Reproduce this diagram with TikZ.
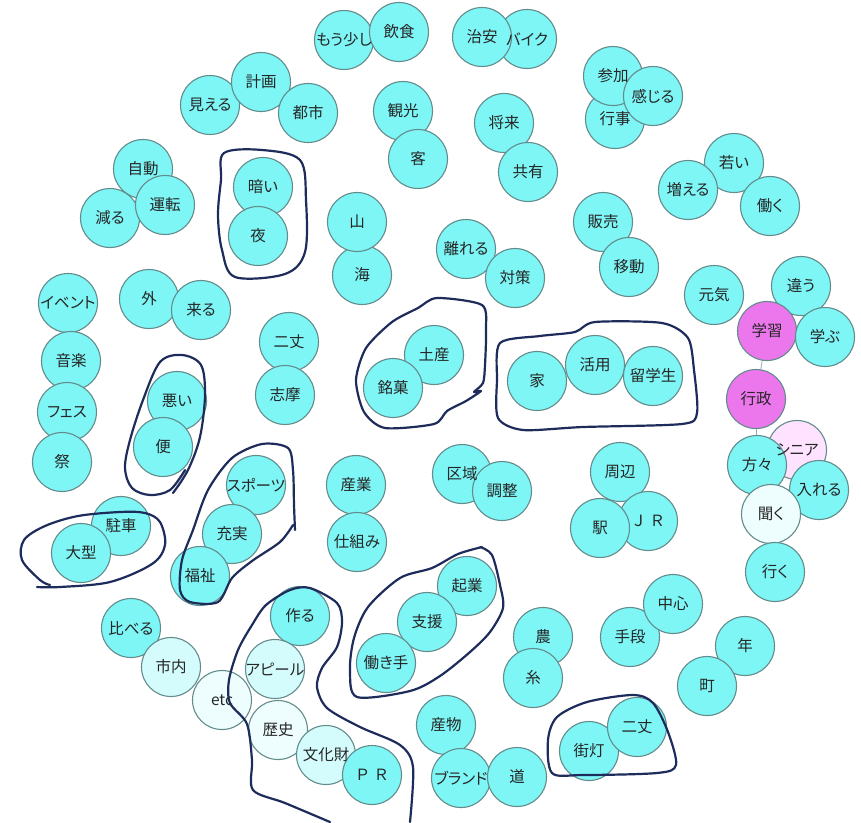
\documentclass[tikz,border=0pt]{standalone}
\usepackage{fontspec}
\setmainfont{Noto Sans CJK JP}[RawFeature=+palt]
\newfontfamily\fwfont{Noto Sans CJK JP}
\definecolor{cy}{RGB}{126,246,246}
\definecolor{lc}{RGB}{212,252,252}
\definecolor{vl}{RGB}{238,254,254}
\definecolor{mg}{RGB}{236,118,236}
\definecolor{pk}{RGB}{255,226,255}
\definecolor{rim}{RGB}{100,140,140}
\definecolor{ink}{RGB}{30,44,92}
\tikzset{
  bub/.style={circle, draw=rim, line width=1.1pt, minimum size=59pt, inner sep=0pt},
  txt/.style={font=\fontsize{15.5}{16}\selectfont, text=black!85, inner sep=0pt},
  edge/.style={draw=rim!70, line width=0.8pt},
  hand/.style={draw=ink, line width=2.2pt, line cap=round, line join=round}
}
\begin{document}
\begin{tikzpicture}[x=1pt,y=-1pt]
\fill[white] (0,0) rectangle (861,822);
\useasboundingbox (0,0) rectangle (861,822);
\def\bubs{344/40/moosukoshi/もう少し/cy, 399/32/inshoku/飲食/cy,
527/39/baiku/バイク/cy, 482/37/chian/治安/cy,
210/105/mieru/見える/cy, 261/82/keikaku/計画/cy, 308/113/toshi/都市/cy,
403/111/kanko/観光/cy, 418/159/kyaku/客/cy,
504/123/shorai/将来/cy, 528/172/kyoyu/共有/cy,
615/119/gyoji/行事/cy, 613/76/sanka/参加/cy, 653/96/kanjiru/感じる/cy,
143/169/jido/自動/cy, 110/218/heru/減る/cy, 165/205/unten/運転/cy,
263/187/kurai/暗い/cy, 258/236/yoru/夜/cy,
362/275/umi/海/cy, 357/222/yama/山/cy,
466/249/hanareru/離れる/cy, 515/278/taisaku/対策/cy,
603/222/hanbai/販売/cy, 629/267/ido/移動/cy,
734/163/wakai/若い/cy, 688/190/fueru/増える/cy, 770/206/hataraku/働く/cy,
714/295/genki/元気/cy, 801/286/chigau/違う/cy, 767/331/gakushu/学習/mg, 825/337/manabu/学ぶ/cy,
756/399/gyosei/行政/mg, 797/450/senior/シニア/pk, 757/465/katagata/方々/cy,
819/490/ireru/入れる/cy, 771/514/kiku/聞く/vl, 775/572/iku/行く/cy,
68/303/event/イベント/cy, 149/299/soto/外/cy, 201/310/kuru/来る/cy,
71/361/ongaku/音楽/cy, 67/412/fes/フェス/cy, 62/462/matsuri/祭/cy,
289/342/nijoa/二丈/cy, 285/395/shima/志摩/cy,
177/401/warui/悪い/cy, 163/447/ben/便/cy,
434/355/miyage/土産/cy, 393/388/meika/銘菓/cy,
537/381/ie/家/cy, 595/365/katsuyo/活用/cy, 653/376/ryugaku/留学生/cy,
356/485/sangyo/産業/cy, 357/542/shikumi/仕組み/cy,
462/474/kuiki/区域/cy, 502/491/chosei/調整/cy,
620/472/shuhen/周辺/cy, 648/521/jr/{\fwfont Ｊ Ｒ}/cy, 600/528/eki/駅/cy,
256/485/sports/スポーツ/cy, 232/534/jujitsu/充実/cy, 200/576/fukushi/福祉/cy,
121/526/chusha/駐車/cy, 81/553/ogata/大型/cy,
131/628/kuraberu/比べる/cy, 171/667/shinai/市内/lc, 222/700/etc/etc/vl,
300/616/tsukuru/作る/cy, 275/669/appeal/アピール/lc, 278/730/rekishi/歴史/vl,
326/755/bunkazai/文化財/lc, 372/775/pr/{\fwfont Ｐ Ｒ}/cy,
467/586/kigyo/起業/cy, 427/622/shien/支援/cy, 386/663/hatarakite/働き手/cy,
543/637/no/農/cy, 533/678/ito/糸/cy,
630/637/shudan/手段/cy, 673/604/chushin/中心/cy,
745/646/nen/年/cy, 707/686/machi/町/cy,
446/725/sanbutsu/産物/cy, 461/778/brand/ブランド/cy, 517/777/michi/道/cy,
589/751/gaito/街灯/cy, 637/727/nijob/二丈/cy}
% anchors for the connectors
\foreach \x/\y/\n/\t/\f in \bubs {\coordinate (\n) at (\x,\y);}
\draw[edge] (gakushu) -- (gyosei);
\draw[edge] (gyosei) -- (katagata);
\draw[edge] (katagata) -- (ireru);
\foreach \x/\y/\n/\t/\f in \bubs {\node[bub, fill=\f] (b-\n) at (\n) {};}
\foreach \x/\y/\n/\t/\f in \bubs {\node[txt] (t-\n) at (\n) {\t};}
% hand-drawn outlines
\draw[hand] plot[smooth cycle, tension=0.55] coordinates {(224,153) (262,150) (300,160) (306,200) (305,252) (285,274) (235,277) (222,250) (218,215) (221,180)};
\draw[hand] plot[smooth, tension=0.55] coordinates {(173,493) (188,470) (200,437) (205,395) (201,365) (182,355) (160,362) (143,400) (130,440) (125,468) (132,488) (150,495) (170,490) (185,470)};
\draw[hand] plot[smooth, tension=0.55] coordinates {(37,587) (60,587) (110,582) (152,564) (165,545) (160,522) (145,513) (120,512) (78,516) (45,526) (24,540) (22,560) (40,580) (50,585)};
\draw[hand] plot[smooth, tension=0.5] coordinates {(295,530) (294,505) (293,470) (288,448) (262,444) (232,458) (208,490) (193,530) (182,560) (180,590) (190,602) (218,602) (232,578) (252,561) (280,542) (293,525)};
\draw[hand] plot[smooth cycle, tension=0.45] coordinates {(437,298) (482,305) (486,330) (485,365) (483,383) (474,392) (481,391) (466,401) (447,411) (434,424) (385,428) (364,412) (356,380) (366,348) (392,322) (418,308)};
\draw[hand] plot[smooth cycle, tension=0.45] coordinates {(500,343) (540,336) (575,332) (595,322) (662,323) (688,338) (694,370) (697,413) (682,424) (583,427) (523,430) (498,418) (497,380)};
\draw[hand] plot[smooth, tension=0.5] coordinates {(480,547) (492,555) (500,585) (503,608) (490,632) (470,652) (440,676) (410,691) (357,697) (350,670) (354,638) (368,607) (400,578) (432,568) (458,554) (482,547)};
\draw[hand] plot[smooth, tension=0.5] coordinates {(410,822) (413,767) (400,745) (360,727) (327,708) (317,687) (322,668) (337,647) (342,622) (337,603) (310,588) (290,590) (266,605) (252,625) (238,650) (229,680) (230,703) (247,724) (252,760) (253,790) (285,803) (330,822)};
\draw[hand] plot[smooth cycle, tension=0.5] coordinates {(633,695) (653,703) (668,732) (676,765) (657,773) (583,775) (552,773) (548,740) (557,717) (587,702)};
\end{tikzpicture}
\end{document}
